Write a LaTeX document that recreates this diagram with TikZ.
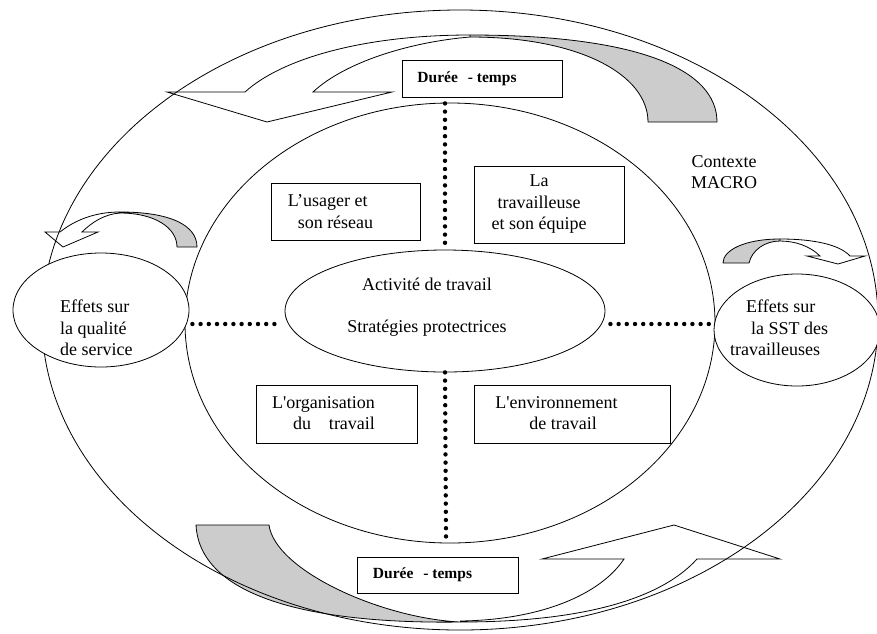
\documentclass[tikz,border=0pt]{standalone}
\usepackage{fontspec}
\setmainfont{Liberation Serif}[Ligatures=TeXOff]
\usetikzlibrary{shapes.geometric}
\tikzstyle{contour} = [draw=black, line width=0.8pt, ellipse, inner sep=0pt]
\tikzstyle{bulle} = [contour, fill=white]
\tikzstyle{cadre} = [draw=black, fill=white, line width=0.8pt, rectangle, inner sep=0pt]
\tikzstyle{libelle} = [align=center, inner sep=0pt]
\tikzstyle{dureetexte} = [libelle, font=\bfseries\fontsize{15.5}{18}\selectfont]
\tikzstyle{dos} = [draw=black, fill=black!20, line width=0.8pt, line join=round]
\tikzstyle{face} = [draw=black, line width=0.8pt]
\tikzstyle{points} = [line width=4.4pt, line cap=round, dash pattern=on 0pt off 8.2pt]

\begin{document}
\begin{tikzpicture}[x=1pt, y=-1pt, font=\fontsize{18}{21.5}\selectfont]
\useasboundingbox (0,0) rectangle (877,633);

% faces grises des fleches courbes
\draw[dos] (470,35) .. controls (640,35) and (717,70) .. (717,122) -- (648,122)
  .. controls (648,75) and (580,37) .. (470,37) -- cycle;
\draw[dos] (196,525) .. controls (200,600) and (320,624) .. (460,622)
  .. controls (380,618) and (275,570) .. (269,525) -- cycle;
\draw[dos] (120,212) .. controls (170,212) and (197,225) .. (197,247) -- (177,247)
  .. controls (177,228) and (155,213) .. (120,213) -- cycle;
\draw[dos] (780,239) .. controls (745,239) and (723,250) .. (723,263) -- (749,263)
  .. controls (752,250) and (765,241) .. (780,241) -- cycle;

% contexte macro et milieu de travail
\node[contour, minimum width=836, minimum height=620] (macro) at (460,320) {};
\node[contour, minimum width=530, minimum height=440] (milieu) at (450,323) {};

% effets
\node[bulle, minimum width=176, minimum height=114] (effetsG) at (101,310) {};
\node[bulle, minimum width=166, minimum height=112] (effetsD) at (797,330) {};

% activite au centre et les quatre cadres
\node[bulle, minimum width=320, minimum height=122] (activite) at (445,311) {};
\node[cadre, minimum width=149, minimum height=57] (usager) at (345.5,211.5) {};
\node[cadre, minimum width=150, minimum height=77] (equipe) at (549,204.5) {};
\node[cadre, minimum width=161, minimum height=58] (organisation) at (336.5,414) {};
\node[cadre, minimum width=196, minimum height=58] (environnement) at (572,414) {};
\node[cadre, minimum width=160, minimum height=37] (dureeH) at (482,78.5) {};
\node[cadre, minimum width=161, minimum height=36] (dureeB) at (437.5,575) {};
\coordinate (finpoints) at (446,537);

% faces avant des fleches
\draw[face] (470,35) .. controls (360,35) and (280,60) .. (245,92) -- (167,92)
  -- (267,122) -- (392,92) -- (313,92) .. controls (345,62) and (410,42) .. (470,37);
\draw[face] (460,622) .. controls (580,622) and (660,600) .. (697,559) -- (780,559)
  -- (674,525) -- (542,559) -- (624,559) .. controls (600,595) and (540,620) .. (460,621);
\draw[face] (120,212) .. controls (95,212) and (75,220) .. (60,232) -- (45,232)
  -- (63,247) -- (98,232) -- (82,232) .. controls (92,222) and (105,214) .. (120,213);
\draw[face] (780,239) .. controls (815,239) and (840,245) .. (850,256) -- (865,256)
  -- (838,264) -- (807,256) -- (820,256) .. controls (810,246) and (795,241) .. (780,241);

% pointilles
\draw[points, shorten <=6pt] (activite.north |- dureeH.south) -- (activite.north);
\draw[points] (activite.south) -- (finpoints);
\draw[points, shorten <=3pt, shorten >=6pt] ([yshift=-14pt]effetsG.east) -- ([yshift=-13pt]activite.west);
\draw[points, shorten <=5pt, shorten >=3pt] ([yshift=-13pt]activite.east) -- ([yshift=6pt]effetsD.west);

% textes
\node[libelle] at ([shift={(-18,-4)}]activite.center) {Activité de travail\\[21pt]Stratégies protectrices};
\node[libelle, align=left] at ([xshift=-15pt]usager.center) {L’usager et\\\hspace*{10pt}son réseau};
\node[libelle] at ([xshift=-10pt]equipe.center) {La\\travailleuse\\et son équipe};
\node[libelle, align=left] at ([xshift=-13pt, yshift=1pt]organisation.center) {L'organisation\\\hspace*{21pt}du\hspace{18pt}travail};
\node[libelle, align=left] at ([xshift=-15.5pt, yshift=1pt]environnement.center) {L'environnement\\\hspace*{34pt}de travail};
\node[dureetexte] at ([xshift=-15pt]dureeH.center) {Durée\hspace{10pt}- temps};
\node[dureetexte] at ([xshift=-15pt]dureeB.center) {Durée\hspace{10pt}- temps};
\node[libelle, align=left, anchor=west] at ([shift={(-41,18)}]effetsG.center) {Effets sur\\la qualité\\de service};
\node[libelle, align=left, anchor=west] at ([shift={(-67,-2)}]effetsD.center) {\hspace*{16pt}Effets sur\\\hspace*{21pt}la SST des\\travailleuses};
\node[libelle] (contexte) at (724,172) {Contexte\\MACRO};
\end{tikzpicture}
\end{document}
